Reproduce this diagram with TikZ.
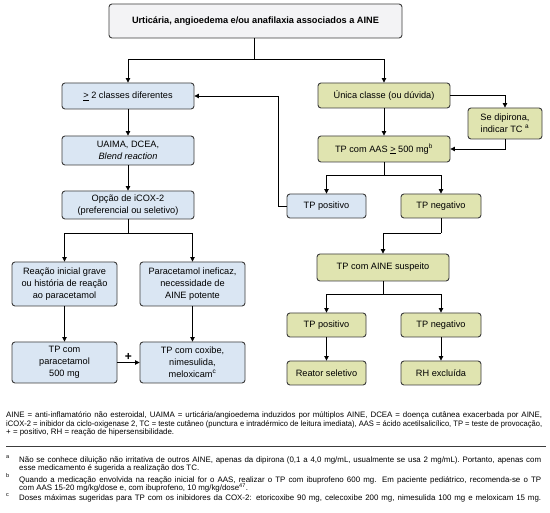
\documentclass[tikz,border=0pt]{standalone}
\usepackage{fontspec}
\setmainfont{Liberation Sans}
\usetikzlibrary{arrows.meta}
\definecolor{bluefill}{HTML}{DAE6F3}
\definecolor{greenfill}{HTML}{E0E4B0}
\definecolor{greyfill}{HTML}{F3F3F5}
\definecolor{edge}{HTML}{3C3C3C}
\newsavebox{\jlinebox}
\newcommand{\jline}[2]{\sbox{\jlinebox}{#2}%
  \ifdim\wd\jlinebox>#1\relax\resizebox{#1}{\height}{\usebox{\jlinebox}}%
  \else\hbox to #1{#2}\fi}
\begin{document}
\begin{tikzpicture}[x=1pt,y=-1pt,
  box/.style={draw=edge, line width=0.9pt, rounded corners=3pt, align=center,
    inner sep=1pt, font=\fontsize{9.2}{11.8}\selectfont, text=black},
  bbox/.style={box, fill=bluefill},
  gbox/.style={box, fill=greenfill},
  topbox/.style={box, fill=greyfill, font=\fontsize{9.2}{11}\selectfont\bfseries},
  conn/.style={draw=black, line width=0.8pt},
  arr/.style={conn, -{Triangle[length=4.5pt,width=4.5pt]}},
  legend/.style={anchor=base west, inner sep=0pt, font=\fontsize{7.9}{8.5}\selectfont},
]
\useasboundingbox (0,0) rectangle (550,513);
\fill[white] (0,0) rectangle (550,513);

% top
\node[topbox, minimum width=293pt, minimum height=34pt] (top) at (255.5,21) {Urticária, angioedema e/ou anafilaxia associados a AINE};

% left column
\node[bbox, minimum width=132pt, minimum height=26pt] (L1) at (128,96) {\underline{>} 2 classes diferentes};
\node[bbox, minimum width=132pt, minimum height=29pt] (L2) at (128,150.5) {UAIMA, DCEA,\\\textit{Blend reaction}};
\node[bbox, minimum width=132pt, minimum height=28pt] (L3) at (128,205) {Opção de iCOX-2\\(preferencial ou seletivo)};
\node[bbox, minimum width=105pt, minimum height=44pt] (L4) at (64.5,284) {Reação inicial grave\\ou história de reação\\ao paracetamol};
\node[bbox, minimum width=105pt, minimum height=44pt] (L5) at (192.5,284) {Paracetamol ineficaz,\\necessidade de\\AINE potente};
\node[bbox, minimum width=105pt, minimum height=41pt] (L6) at (64.5,362.5) {TP com\\paracetamol\\500 mg};
\node[bbox, minimum width=105pt, minimum height=41pt] (L7) at (192.5,362.5) {TP com coxibe,\\nimesulida,\\meloxicam\textsuperscript{c}};

% right column
\node[gbox, minimum width=132pt, minimum height=25pt] (R1) at (384,95.5) {Única classe (ou dúvida)};
\node[gbox, minimum width=74pt, minimum height=31pt] (R2) at (505,123.5) {Se dipirona,\\indicar TC \textsuperscript{a}};
\node[gbox, minimum width=132pt, minimum height=26pt] (R3) at (384,149) {TP com AAS \underline{>} 500 mg\textsuperscript{b}};
\node[bbox, minimum width=79pt, minimum height=24pt] (R4) at (326.5,206) {TP positivo};
\node[gbox, minimum width=80pt, minimum height=24pt] (R5) at (441,206) {TP negativo};
\node[gbox, minimum width=132pt, minimum height=27pt] (R6) at (383,267.5) {TP com AINE suspeito};
\node[gbox, minimum width=79pt, minimum height=24pt] (R7) at (326.5,325) {TP positivo};
\node[gbox, minimum width=80pt, minimum height=24pt] (R8) at (441,325) {TP negativo};
\node[gbox, minimum width=79pt, minimum height=24pt] (R9) at (326.5,373) {Reator seletivo};
\node[gbox, minimum width=80pt, minimum height=24pt] (R10) at (441,373) {RH excluída};

% junction coordinates
\coordinate (j1) at (254,59);
\coordinate (j2) at (128,233);
\coordinate (j3) at (384,175);
\coordinate (j4) at (441,233);
\coordinate (j5) at (383,294);
\coordinate (j6) at (278,206);

% connectors
\draw[conn] (top.south -| j1) -- (j1);
\draw[arr] (j1) -| (L1.north);
\draw[arr] (j1) -| (R1.north);
\draw[arr] (L1) -- (L2);
\draw[arr] (L2) -- (L3);
\draw[conn] (L3.south) -- (j2);
\draw[arr] (j2) -| (L4.north);
\draw[arr] (j2) -| (L5.north);
\draw[arr] (L4) -- (L6);
\draw[arr] (L5) -- (L7);
\draw[arr] (L6.east) -- node[above=2pt, font=\fontsize{12}{12}\selectfont\bfseries, inner sep=0pt] (plus) {+} (L7.west);

\draw[arr] (R1.east) -| (R2.north);
\draw[arr] (R1) -- (R3);
\draw[arr] (R2.south) |- (R3.east);
\draw[conn] (R3.south) -- (j3);
\draw[arr] (j3) -| (R4.north);
\draw[arr] (j3) -| (R5.north);
\draw[arr] (R4.west) -- (j6) |- (L1.east);
\draw[conn] (R5.south) -- (j4);
\draw[arr] (j4) -| (R6.north);
\draw[conn] (R6.south) -- (j5);
\draw[arr] (j5) -| (R7.north);
\draw[arr] (j5) -| (R8.north);
\draw[arr] (R7) -- (R9);
\draw[arr] (R8) -- (R10);

% legend
\node[legend] (lg1) at (6,418) {\jline{536pt}{AINE = anti-inflamatório não esteroidal, UAIMA = urticária/angioedema induzidos por múltiplos AINE, DCEA = doença cutânea exacerbada por AINE,}};
\node[legend] (lg2) at (6,426.5) {\jline{536pt}{iCOX-2 = inibidor da ciclo-oxigenase 2, TC = teste cutâneo (punctura e intradérmico de leitura imediata), AAS = ácido acetilsalicílico, TP = teste de provocação,}};
\node[legend] (lg3) at (6,435) {+ = positivo, RH = reação de hipersensibilidade.};
\draw[draw=edge, line width=0.9pt] (6,446) -- (546,446);

% footnotes
\node[legend] (fa) at (6,461) {\textsuperscript{a}};
\node[legend] (fa1) at (19,463) {\jline{522pt}{Não se conhece diluição não irritativa de outros AINE, apenas da dipirona (0,1 a 4,0 mg/mL, usualmente se usa 2 mg/mL). Portanto, apenas com}};
\node[legend] (fa2) at (19,471) {esse medicamento é sugerida a realização dos TC.};
\node[legend] (fb) at (6,480.5) {\textsuperscript{b}};
\node[legend] (fb1) at (19,482.5) {\jline{522pt}{Quando a medicação envolvida na reação inicial for o AAS, realizar o TP com ibuprofeno 600 mg. Em paciente pediátrico, recomenda-se o TP}};
\node[legend] (fb2) at (19,490.5) {com AAS 15-20 mg/kg/dose e, com ibuprofeno, 10 mg/kg/dose\textsuperscript{47}.};
\node[legend] (fc) at (6,499) {\textsuperscript{c}};
\node[legend] (fc1) at (19,501) {\jline{522pt}{Doses máximas sugeridas para TP com os inibidores da COX-2: etoricoxibe 90 mg, celecoxibe 200 mg, nimesulida 100 mg e meloxicam 15 mg.}};
\end{tikzpicture}
\end{document}
